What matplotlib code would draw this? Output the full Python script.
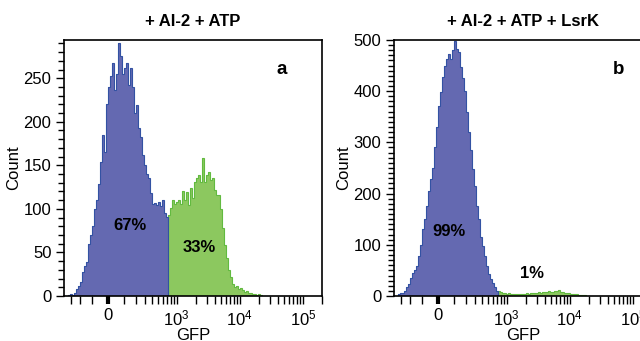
import numpy as np
import matplotlib
matplotlib.use('Agg')
import matplotlib.pyplot as plt

plt.rcParams['font.family'] = ['Liberation Sans', 'DejaVu Sans']
plt.rcParams['mathtext.fontset'] = 'custom'
plt.rcParams['mathtext.rm'] = 'Liberation Sans'

# biexponential (logicle-like) GFP axis, approximated with arcsinh
COFACTOR = 165
gfp_min, gfp_max = -392, 197000
n_channels = 129
gate_channel = 52  # first channel of the GFP+ gate

# panel a: + AI-2 + ATP
counts_a_neg = [0, 0, 1, 2, 1, 3, 8, 12, 16, 28,
                34, 39, 60, 70, 80, 100, 110, 128, 154, 185,
                165, 220, 240, 253, 268, 236, 255, 290, 276, 255,
                262, 268, 242, 262, 240, 210, 219, 193, 183, 162,
                150, 140, 135, 118, 106, 107, 104, 108, 103, 110,
                95, 91]
counts_a_pos = [93, 101, 110, 106, 108, 110, 106, 121, 110, 119,
                104, 124, 112, 131, 135, 139, 131, 158, 131, 139,
                142, 133, 135, 122, 116, 116, 100, 78, 58, 44,
                30, 22, 14, 10, 11, 8, 9, 7, 5, 6,
                4, 3, 2, 2, 1, 2, 1]

# panel b: + AI-2 + ATP + LsrK
counts_b_neg = [0, 0, 3, 5, 6, 10, 17, 24, 36, 45,
                50, 58, 78, 100, 130, 150, 175, 205, 228, 250,
                290, 330, 370, 398, 427, 450, 462, 472, 462, 480,
                498, 482, 476, 447, 425, 400, 360, 320, 285, 248,
                215, 176, 150, 115, 98, 78, 58, 42, 33, 25,
                18, 10]
counts_b_pos = [9, 8, 6, 5, 4, 5, 4, 4, 3, 4,
                3, 4, 3, 4, 5, 4, 5, 6, 5, 6,
                7, 6, 8, 7, 8, 9, 7, 8, 10, 9,
                11, 8, 7, 6, 5, 5, 4, 4, 3, 3,
                2, 2, 1, 1]

titles = ['+ AI-2 + ATP', '+ AI-2 + ATP + LsrK']
letters = ['a', 'b']
pct_neg = ['67%', '99%']
pct_pos = ['33%', '1%']
y_max = [294, 500]
y_step = [50, 100]

x_major = [0, 1e3, 1e4, 1e5]
x_major_labels = ['0', r'$\mathregular{10^3}$', r'$\mathregular{10^4}$', r'$\mathregular{10^5}$']
x_minor = ([-300, -200, -100] + list(range(100, 1000, 100))
           + list(range(2000, 10000, 1000)) + list(range(20000, 100000, 10000)) + [200000])

BLUE, BLUE_EDGE = '#6469B1', '#3352A3'
GREEN, GREEN_EDGE = '#8CC85F', '#62BA40'
FS = 12


def fwd(x):
    return np.arcsinh(np.asarray(x, dtype=float) / COFACTOR)


def inv(t):
    return COFACTOR * np.sinh(t)


edges = inv(np.linspace(fwd(gfp_min), fwd(gfp_max), n_channels + 1))

fig = plt.figure(figsize=(6.4, 3.41), dpi=100)
ax_a = fig.add_axes([0.100, 0.132, 0.403, 0.751])
ax_b = fig.add_axes([0.6156, 0.132, 0.403, 0.751])

panels = [(ax_a, counts_a_neg, counts_a_pos), (ax_b, counts_b_neg, counts_b_pos)]
pct_pos_xy = [[(0.256, 0.277), (0.523, 0.19)], [(0.213, 0.25), (0.535, 0.088)]]
letter_xy = [(0.845, 0.885), (0.872, 0.885)]

for i, (ax, neg, pos) in enumerate(panels):
    e_neg = edges[:len(neg) + 1]
    e_pos = edges[gate_channel:gate_channel + len(pos) + 1]
    ax.stairs(neg, e_neg, fill=True, color=BLUE, lw=0)
    ax.stairs(pos, e_pos, fill=True, color=GREEN, lw=0)
    ax.stairs(pos, e_pos, color=GREEN_EDGE, lw=0.8)
    ax.stairs(neg, e_neg, color=BLUE_EDGE, lw=0.8)

    ax.set_xscale('function', functions=(fwd, inv))
    ax.set_xlim(gfp_min, gfp_max)
    ax.set_ylim(0, y_max[i])

    ax.set_xticks(x_major)
    ax.set_xticklabels(x_major_labels)
    ax.set_xticks(x_minor, minor=True)
    ax.set_yticks(np.arange(0, y_max[i] + 1, y_step[i]))
    ax.set_yticks(np.arange(0, y_max[i] + 1, 10), minor=True)
    ax.tick_params(which='both', direction='out', labelsize=FS, width=1, pad=3)
    ax.tick_params(which='major', length=6)
    ax.tick_params(which='minor', length=4)
    ax.tick_params(axis='x', which='minor', length=6)
    ax.xaxis.get_major_ticks()[0].tick1line.set_markeredgewidth(3)

    for s in ax.spines.values():
        s.set_linewidth(1.2)

    ax.set_title(titles[i], fontsize=FS, fontweight='bold', pad=10)
    ax.set_ylabel('Count', fontsize=FS, labelpad=2)
    ax.set_xlabel('GFP', fontsize=FS, labelpad=0)

    ax.text(*pct_pos_xy[i][0], pct_neg[i], transform=ax.transAxes, fontsize=FS,
            fontweight='bold', ha='center', va='center')
    ax.text(*pct_pos_xy[i][1], pct_pos[i], transform=ax.transAxes, fontsize=FS,
            fontweight='bold', ha='center', va='center')
    ax.text(*letter_xy[i], letters[i], transform=ax.transAxes, fontsize=13.5,
            fontweight='bold', ha='center', va='center')

fig.savefig('out.png', dpi=100)
